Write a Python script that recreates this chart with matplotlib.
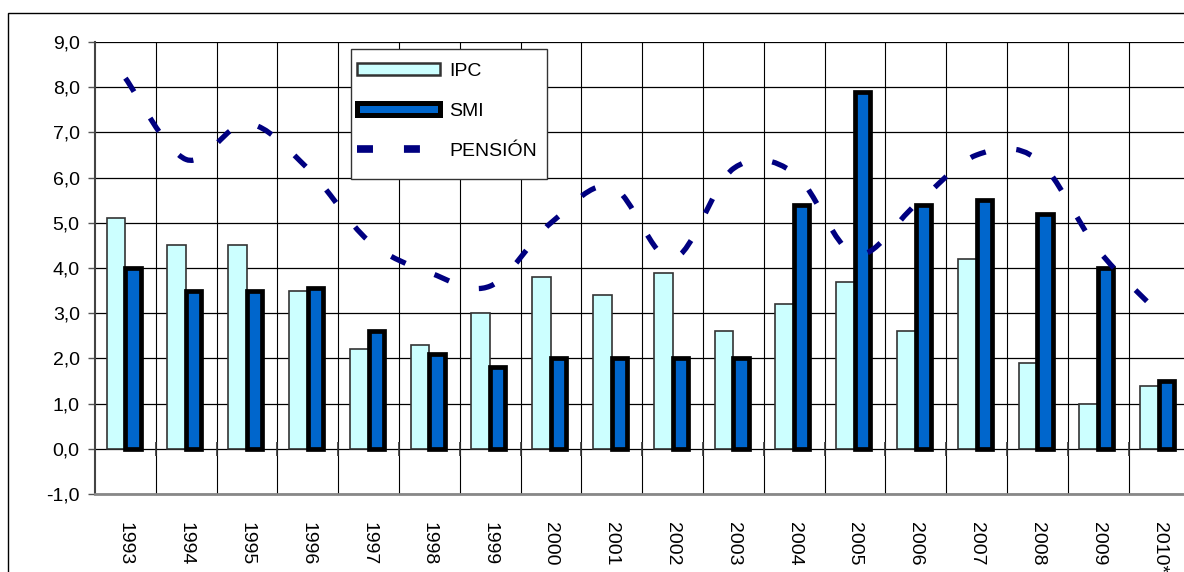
import numpy as np
import matplotlib
matplotlib.use('Agg')
import matplotlib.pyplot as plt
from matplotlib.path import Path
from matplotlib.patches import PathPatch, Rectangle, Patch
from matplotlib.lines import Line2D

years = ['1993', '1994', '1995', '1996', '1997', '1998', '1999', '2000', '2001',
         '2002', '2003', '2004', '2005', '2006', '2007', '2008', '2009', '2010*']
ipc = [5.1, 4.5, 4.5, 3.5, 2.2, 2.3, 3.0, 3.8, 3.4, 3.9, 2.6, 3.2, 3.7, 2.6, 4.2, 1.9, 1.0, 1.4]
smi = [4.0, 3.5, 3.5, 3.55, 2.6, 2.1, 1.8, 2.0, 2.0, 2.0, 2.0, 5.4, 7.9, 5.4, 5.5, 5.2, 4.0, 1.5]
pension = [8.2, 6.4, 7.2, 6.2, 4.6, 3.9, 3.6, 5.0, 5.8, 4.2, 6.2, 6.1, 4.3, 5.4, 6.5, 6.4, 4.4, 3.0]
yticks = [-1, 0, 1, 2, 3, 4, 5, 6, 7, 8, 9]
series_labels = ['IPC', 'SMI', 'PENSIÓN']

plt.rcParams['font.family'] = ['Liberation Sans', 'DejaVu Sans']
plt.rcParams['lines.scale_dashes'] = False

W, H = 1184, 572
fig = plt.figure(figsize=(W / 100, H / 100), dpi=100)
fig.patch.set_facecolor('white')

FS = 14
cat_w = 60.8
ax = fig.add_axes([95 / W, 1 - 494 / H, 18 * cat_w / W, 452 / H])
x = np.arange(len(years))

ipc_col, ipc_edge = '#CCFFFF', '#333333'
smi_col, smi_edge = '#0066CC', 'black'
pen_col = '#000080'
dash = (0, (11.5, 22.3))

ax.bar(x - 0.31, ipc, width=0.31, align='edge', color=ipc_col, edgecolor=ipc_edge,
       linewidth=1.2, zorder=3)
ax.bar(x, smi, width=0.25, align='edge', color=smi_col, edgecolor=smi_edge,
       linewidth=3.4, zorder=3)

# smoothed pension line (Bezier through the data points)
P = np.column_stack([x, pension]).astype(float)
Pext = np.vstack([P[0], P, P[-1]])
verts = [P[0]]
codes = [Path.MOVETO]
for i in range(len(P) - 1):
    p0, p1, p2, p3 = Pext[i], Pext[i + 1], Pext[i + 2], Pext[i + 3]
    c1 = p1 + (p2 - p0) / 6.0
    c2 = p2 - (p3 - p1) / 6.0
    verts += [c1, c2, p2]
    codes += [Path.CURVE4] * 3
ax.add_patch(PathPatch(Path(verts, codes), facecolor='none', edgecolor=pen_col,
                       linewidth=3.8, linestyle=dash, capstyle='butt', zorder=4))

ax.set_xlim(-0.5, 17.5)
ax.set_ylim(-1, 9)
ax.set_yticks(yticks)
ax.set_yticklabels([f"{v:.1f}".replace('.', ',') for v in yticks], fontsize=FS)
ax.set_xticks(x)
ax.set_xticklabels(years, rotation=270, fontsize=FS, va='top', ha='center')
ax.set_xticks(x + 0.5, minor=True)
ax.tick_params(axis='x', which='both', length=0, pad=20)
ax.tick_params(axis='y', direction='out', length=5, width=1, color='#555555', pad=6)
ax.grid(axis='y', which='major', color='black', linewidth=0.9, zorder=0)
ax.grid(axis='x', which='minor', color='black', linewidth=0.8, zorder=0)
ax.set_axisbelow(True)
for s in ['top', 'right']:
    ax.spines[s].set_visible(False)
ax.spines['left'].set_color('#444444')
ax.spines['left'].set_linewidth(1.5)
ax.spines['bottom'].set_color('#888888')
ax.spines['bottom'].set_linewidth(2)
# category axis ticks at zero
ax.vlines(x + 0.5, -0.15, 0.15, color='#333333', linewidth=1.2, zorder=1)

# outer chart border
fig.add_artist(Rectangle((8 / W, -0.1), 1.2, (1 - 13 / H) + 0.1, transform=fig.transFigure,
                         facecolor='none', edgecolor='black', linewidth=1.0))

# legend frame
fig.add_artist(Rectangle((351 / W, 1 - 179 / H), 196 / W, 130 / H, transform=fig.transFigure,
                         facecolor='white', edgecolor='#333333', linewidth=1.0, zorder=5))
handles = [Patch(facecolor=ipc_col, edgecolor=ipc_edge, linewidth=1.8),
           Patch(facecolor=smi_col, edgecolor=smi_edge, linewidth=3.6),
           Line2D([], [], color=pen_col, linewidth=5.5, linestyle=dash, solid_capstyle='butt',
                  dash_capstyle='butt')]
leg = fig.legend(handles, series_labels, loc='upper left',
                 bbox_to_anchor=(357 / W, 1 - 63 / H), bbox_transform=fig.transFigure,
                 frameon=False, fontsize=FS, borderpad=0, borderaxespad=0,
                 handlelength=4.25, handleheight=0.6, handletextpad=0.5, labelspacing=1.17)
leg.set_zorder(6)

fig.savefig('out.png', dpi=100, facecolor='white')
